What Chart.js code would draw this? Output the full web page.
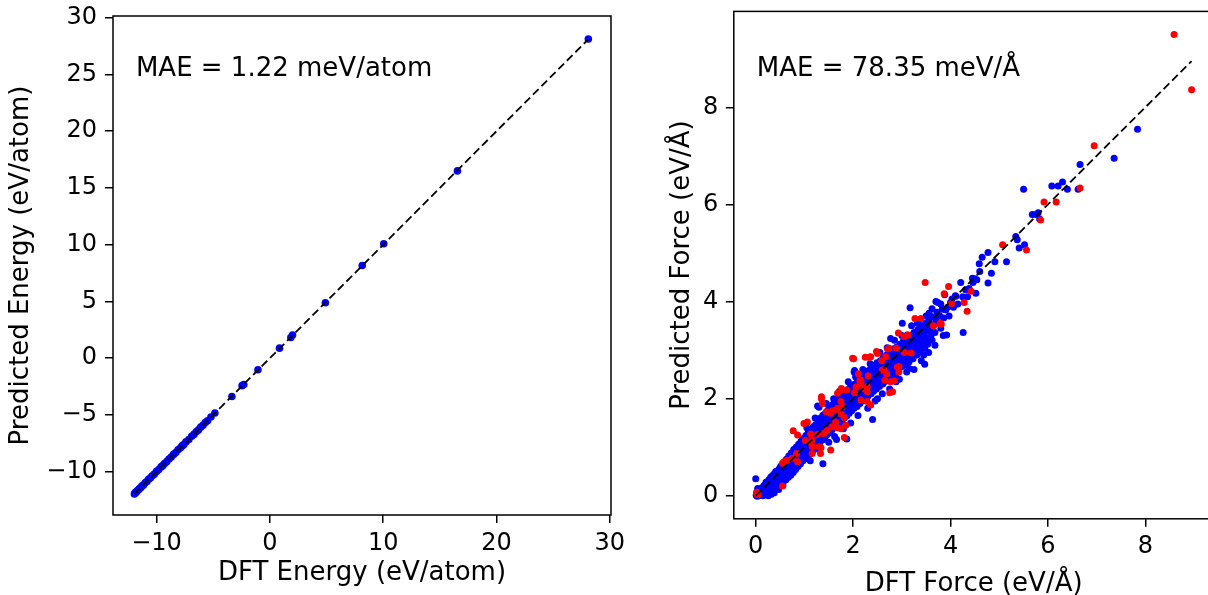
<!DOCTYPE html>
<html><head><meta charset="utf-8">
<script src="https://cdn.jsdelivr.net/npm/chart.js@4.4.0/dist/chart.umd.min.js"></script>
<style>
html,body{margin:0;padding:0;background:#fff;overflow:hidden;width:1208px;height:595px;position:relative;}
#c1{position:absolute;left:0;top:0;}
#c2{position:absolute;left:600px;top:0;}
</style></head><body>
<canvas id="c1" width="640" height="595"></canvas>
<canvas id="c2" width="620" height="610"></canvas>
<script>
// ---------------- data ----------------
const leftXTitle = 'DFT Energy (eV/atom)';
const leftYTitle = 'Predicted Energy (eV/atom)';
const leftNote = 'MAE = 1.22 meV/atom';
const leftXTicks = [-10, 0, 10, 20, 30];
const leftYTicks = [-10, -5, 0, 5, 10, 15, 20, 25, 30];
const leftDFT  = [-11.95,-11.9,-11.85,-11.8,-11.7,-11.6,-11.5,-11.4,-11.3,-11.15,-11.0,-10.85,-10.7,-10.55,-10.4,-10.2,-10.0,-9.8,-9.6,-9.45,-9.3,-9.1,-8.9,-8.7,-8.5,-8.3,-8.1,-7.9,-7.75,-7.6,-7.4,-7.15,-6.9,-6.7,-6.5,-6.3,-6.1,-5.9,-5.7,-5.5,-5.2,-4.85,-3.35,-2.45,-2.3,-1.05,0.85,1.85,2.0,4.9,8.15,10.05,16.55,28.1];
const leftPred = [-11.97,-11.88,-11.82,-11.83,-11.68,-11.62,-11.48,-11.42,-11.28,-11.17,-10.98,-10.87,-10.68,-10.57,-10.38,-10.22,-9.98,-9.82,-9.58,-9.47,-9.28,-9.12,-8.88,-8.72,-8.48,-8.32,-8.08,-7.92,-7.73,-7.62,-7.38,-7.17,-6.88,-6.72,-6.48,-6.32,-6.08,-5.92,-5.68,-5.52,-5.18,-4.83,-3.38,-2.42,-2.32,-1.02,0.88,1.82,2.03,4.88,8.17,10.08,16.5,28.12];

const rightXTitle = 'DFT Force (eV/\u00C5)';
const rightYTitle = 'Predicted Force (eV/\u00C5)';
const rightNote = 'MAE = 78.35 meV/\u00C5';
const rightTicks = [0, 2, 4, 6, 8];
// [DFT force, predicted force]
const bluePoints = [
[0.01,0.01],[0.03,-0.01],[0.05,0.04],[0.02,0.07],[0.07,0.0],[0.08,0.1],[0.09,0.03],[0.0,0.35],[0.04,0.15],
[0.11,0.02],[0.12,0.16],[0.14,0.08],[0.15,0.0],[0.17,0.21],[0.18,0.12],[0.19,0.04],
[0.21,0.28],[0.22,0.15],[0.24,0.06],[0.25,0.22],[0.27,0.33],[0.28,0.1],[0.29,0.2],[0.26,0.0],[0.32,0.03],[0.36,0.08],
[0.31,0.38],[0.32,0.24],[0.33,0.12],[0.35,0.3],[0.36,0.18],[0.37,0.44],[0.38,0.06],[0.39,0.27],
[0.41,0.5],[0.42,0.35],[0.43,0.21],[0.45,0.42],[0.46,0.29],[0.47,0.13],[0.48,0.55],[0.49,0.38],
[0.51,0.6],[0.52,0.45],[0.53,0.3],[0.55,0.52],[0.56,0.22],[0.57,0.4],[0.58,0.68],[0.59,0.56],
[0.61,0.47],[0.62,0.33],[0.63,0.75],[0.64,0.6],[0.66,0.5],[0.67,0.38],[0.68,0.82],[0.69,0.65],
[0.71,0.55],[0.72,0.42],[0.73,0.88],[0.74,0.72],[0.76,0.6],[0.77,0.48],[0.78,0.95],[0.79,0.8],
[0.81,0.67],[0.82,0.54],[0.83,1.0],[0.84,0.85],[0.86,0.74],[0.87,0.6],[0.88,1.06],[0.89,0.92],
[0.91,0.8],[0.92,0.66],[0.93,1.12],[0.94,0.98],[0.96,0.86],[0.97,0.72],[0.98,1.18],[0.99,1.02],
[1.01,0.9],[1.02,0.76],[1.03,1.24],[1.04,1.08],[1.06,0.96],[1.07,0.82],[1.08,1.3],[1.09,1.14],
[1.11,1.0],[1.12,0.86],[1.13,1.36],[1.14,1.2],[1.16,1.06],[1.17,0.92],[1.18,1.42],[1.19,1.27],
[1.21,1.12],[1.22,0.98],[1.23,1.46],[1.24,1.32],[1.26,1.18],[1.27,1.04],[1.28,1.55],[1.29,1.38],
[1.31,1.25],[1.32,1.1],[1.33,1.6],[1.34,1.44],[1.36,1.3],[1.37,1.15],[1.38,1.66],[1.39,1.5],
[1.41,1.36],[1.42,1.2],[1.43,1.7],[1.44,1.55],[1.46,1.4],[1.47,1.26],[1.48,1.76],[1.49,1.6],
[1.51,1.45],[1.52,1.3],[1.53,1.82],[1.54,1.66],[1.56,1.52],[1.57,1.36],[1.58,1.88],[1.59,1.7],
[1.61,1.56],[1.62,1.4],[1.63,1.92],[1.64,1.76],[1.66,1.62],[1.67,1.46],[1.68,1.98],[1.69,1.8],
[1.71,1.66],[1.72,1.5],[1.73,2.02],[1.74,1.86],[1.76,1.72],[1.77,1.55],[1.78,2.08],[1.79,1.9],
[1.81,1.76],[1.82,1.6],[1.83,2.12],[1.84,1.96],[1.86,1.82],[1.87,1.64],[1.88,2.18],[1.89,2.0],
[1.91,1.86],[1.92,1.7],[1.93,2.22],[1.94,2.06],[1.96,1.92],[1.97,1.75],[1.98,2.28],[1.99,2.1],
[2.01,1.96],[2.02,1.8],[2.04,2.3],[2.05,2.14],[2.07,2.0],[2.08,1.84],[2.09,2.36],
[2.11,2.2],[2.12,2.05],[2.14,1.9],[2.15,2.42],[2.17,2.26],[2.18,2.1],[2.19,1.95],
[2.21,2.48],[2.22,2.32],[2.24,2.16],[2.25,2.0],[2.27,2.5],[2.28,2.36],[2.29,2.2],
[2.31,2.06],[2.32,2.58],[2.34,2.42],[2.35,2.26],[2.37,2.1],[2.38,2.62],[2.39,2.46],
[2.41,2.3],[2.42,2.15],[2.44,2.68],[2.45,2.5],[2.47,2.36],[2.48,2.2],[2.49,2.74],
[2.51,2.56],[2.53,2.4],[2.54,2.25],[2.56,2.78],[2.57,2.62],[2.59,2.46],
[2.61,2.3],[2.62,2.84],[2.64,2.68],[2.66,2.52],[2.67,2.36],[2.69,2.9],
[2.71,2.72],[2.72,2.56],[2.74,2.42],[2.76,2.96],[2.77,2.8],[2.79,2.62],
[2.81,2.48],[2.82,3.02],[2.84,2.86],[2.86,2.7],[2.87,2.54],[2.89,3.06],
[2.91,2.92],[2.92,2.76],[2.94,2.6],[2.96,3.12],[2.97,2.96],[2.99,2.8],
[3.01,2.66],[3.03,3.18],[3.05,3.02],[3.06,2.86],[3.08,2.7],[3.09,3.22],
[3.11,3.06],[3.13,2.92],[3.15,2.76],[3.17,3.3],[3.19,3.12],
[3.21,2.96],[3.23,2.82],[3.25,3.36],[3.27,3.2],[3.29,3.04],
[3.31,2.9],[3.33,3.42],[3.35,3.26],[3.37,3.1],[3.39,2.96],
[3.41,3.5],[3.43,3.34],[3.45,3.18],[3.47,3.04],[3.49,3.56],
[3.52,3.4],[3.54,3.24],[3.56,3.62],[3.58,3.46],[3.6,3.3],
[3.63,3.68],[3.66,3.52],[3.68,3.36],[3.7,3.62],[3.72,3.78],[3.75,3.56],[3.78,3.7],[3.8,3.45],
[3.83,3.84],[3.86,3.66],[3.88,4.14],[3.9,3.83],[3.92,3.31],[3.94,3.88],[3.97,3.7],[4.0,3.98],
[4.03,4.05],[4.06,3.88],[4.1,4.12],[4.11,4.11],[4.15,3.95],[4.21,4.39],[4.25,4.1],[4.26,3.36],
[4.31,4.24],[4.35,4.1],[4.38,4.27],[4.45,4.48],[4.5,4.47],[4.52,4.17],[4.54,4.45],[4.59,4.78],
[4.65,4.91],[4.77,5.01],[4.77,4.38],[4.84,4.58],[4.91,4.82],[4.6,4.62],[4.46,4.39],
[5.15,4.82],[5.34,5.34],[5.37,5.27],[5.41,5.1],[5.52,5.17],[5.5,6.31],[5.68,5.79],[5.75,5.79],
[5.8,5.83],[5.83,5.7],[6.08,6.38],[6.21,6.38],[6.3,6.46],[6.4,6.31],[6.62,6.31],[6.66,6.82],
[7.36,6.95],[7.84,7.55],
[1.27,1.85],[1.3,1.82],[1.38,0.66],[1.66,1.16],[1.87,1.17],[2.4,1.57],[2.03,2.58],[2.39,2.63],
[3.47,2.71],[3.17,3.87],[2.77,3.24],[2.9,2.42],[3.45,2.9],[3.32,3.07],[3.56,3.76],[3.7,4.0],
[3.01,3.55],[3.32,3.55],[3.11,3.31],[2.02,2.55],[3.74,3.98],[3.9,3.83],
[0.33,0.4],[0.35,0.22],[0.4,0.44],[0.42,0.28],[0.44,0.15],[0.5,0.48],[0.52,0.36],[0.54,0.6],
[0.57,0.3],[0.6,0.62],[0.62,0.5],[0.65,0.43],[0.66,0.7],[0.7,0.77],[0.7,0.6],[0.72,0.5],
[0.75,0.84],[0.75,0.66],[0.78,0.55],[0.8,0.9],[0.8,0.72],[0.83,0.62],[0.85,0.97],[0.85,0.8],
[0.88,0.66],[0.9,1.03],[0.9,0.86],[0.93,0.74],[0.95,1.1],[0.95,0.92],[0.98,0.8],[1.0,1.16],
[1.0,1.0],[1.03,0.85],[1.05,1.22],[1.05,1.05],[1.08,0.9],[1.1,1.28],[1.1,1.1],[1.13,0.96],
[1.15,1.33],[1.15,1.16],[1.18,1.0],[1.2,1.4],[1.2,1.22],[1.23,1.06],[1.25,1.45],[1.25,1.28],
[1.28,1.12],[1.3,1.5],[1.3,1.33],[1.33,1.18],[1.35,1.56],[1.35,1.38],[1.38,1.22],[1.4,1.62],
[1.4,1.44],[1.43,1.28],[1.45,1.67],[1.45,1.48],[1.48,1.33],[1.5,1.73],[1.5,1.54],[1.53,1.38],
[1.55,1.78],[1.55,1.6],[1.58,1.43],[1.6,1.84],[1.6,1.64],[1.63,1.48],[1.65,1.88],[1.65,1.7],
[1.68,1.53],[1.7,1.94],[1.7,1.74],[1.73,1.58],[1.75,2.0],[1.75,1.8],[1.78,1.63],[1.8,2.05],
[1.8,1.85],[1.83,1.68],[1.85,2.1],[1.85,1.9],[1.88,1.72],[1.9,2.15],[1.9,1.95],[1.93,1.78],
[1.95,2.2],[1.95,2.0],[1.98,1.82],[2.0,2.26],[2.0,2.06],[2.03,1.88],[2.06,2.3],[2.06,2.1],
[2.1,1.92],[2.12,2.36],[2.13,2.16],[2.16,1.98],[2.18,2.42],[2.2,2.22],[2.23,2.04],[2.25,2.46],
[2.26,2.28],[2.3,2.1],[2.32,2.5],[2.33,2.34],[2.36,2.16],[2.38,2.55],[2.4,2.4],[2.43,2.22],
[2.45,2.6],[2.46,2.44],[2.5,2.28],[2.52,2.66],[2.53,2.5],[2.56,2.33],[2.58,2.72],[2.6,2.56],
[2.63,2.4],[2.65,2.76],[2.67,2.62],[2.7,2.46],[2.72,2.82],[2.74,2.66],[2.77,2.5],[2.79,2.88],
[2.8,2.74],[2.83,2.58],[2.86,2.94],[2.88,2.8],[2.9,2.64],[2.93,3.0],[2.95,2.84],[2.98,2.7],
[3.0,3.05],[3.02,2.9],[3.05,2.76],[3.08,3.12],[3.1,2.95],[3.13,2.82],[3.16,3.18],[3.18,3.02],
[3.2,2.88],[3.24,3.24],[3.26,3.08],[3.28,2.94],[3.32,3.3],[3.34,3.14],[3.36,3.0],[3.4,3.36],
[3.42,3.2],[3.44,3.06],[3.48,3.42],[3.5,3.26],[3.53,3.12],[3.57,3.5],[3.6,3.36],[3.62,3.2],
[1.05,1.4],[1.12,0.72],[1.22,1.6],[1.3,0.95],[1.45,1.9],[1.5,1.1],[1.6,2.0],[1.62,1.22],
[1.72,2.15],[1.8,1.38],[1.9,2.35],[1.95,1.5],[2.05,2.45],[2.1,1.65],[2.2,2.6],[2.3,1.8],
[2.35,2.72],[2.45,1.95],[2.55,2.95],[2.6,2.1],[2.7,3.05],[2.75,2.2],[2.85,3.2],[2.95,2.4],
[3.0,3.3],[3.1,2.55],[3.2,3.5],[3.25,2.6],[3.35,3.62],[3.4,2.78],[3.5,3.7],[3.55,2.95],
[3.62,3.85],[3.68,3.1],[3.8,3.95],[3.85,3.3],[2.25,2.55],[2.5,2.0],[2.88,2.35],[3.15,2.62]
];
const redPoints = [
[0.02,0.04],[0.05,0.02],[0.03,0.07],[0.55,0.2],[0.55,0.67],[0.58,0.7],[0.64,0.73],[0.75,0.77],
[0.86,0.7],[0.77,1.34],[0.86,1.25],[0.84,0.87],[0.99,1.49],[1.06,1.52],[1.02,1.14],[1.12,1.1],
[1.16,0.87],[1.16,1.01],[1.13,1.27],[1.16,1.15],[1.3,1.01],[1.27,1.26],[1.33,0.87],[1.34,0.99],
[1.54,0.94],[1.35,2.04],[1.45,1.73],[1.58,1.75],[1.67,1.78],[1.64,1.52],[1.68,1.8],[1.75,1.69],
[1.78,1.83],[1.82,1.61],[1.85,1.45],[1.67,1.4],[1.75,1.38],[1.82,1.2],[1.4,1.28],[1.47,1.35],
[1.57,1.42],[1.35,2.0],[1.37,1.9],[1.54,1.7],[1.75,1.94],[1.78,2.18],[1.68,2.11],[1.76,2.21],
[1.87,2.18],[2.03,2.12],[2.06,2.24],[2.14,2.37],[2.29,1.94],[2.29,2.14],[2.01,2.82],[2.11,2.51],
[2.16,2.38],[2.16,2.31],[2.25,2.85],[2.33,2.85],[2.29,2.25],[2.31,2.47],[2.48,2.97],[2.5,2.93],
[2.59,2.78],[2.6,2.59],[2.65,2.38],[2.67,2.86],[2.69,2.51],[2.71,3.02],[2.74,3.04],[2.75,2.12],
[2.81,2.14],[2.84,2.37],[2.89,3.04],[2.91,2.65],[2.93,3.35],[2.94,2.55],[3.05,2.95],[3.05,3.28],
[3.19,2.94],[3.13,3.31],[3.27,3.65],[3.39,3.65],[3.48,4.39],[3.65,3.5],[3.79,3.55],[3.81,3.53],
[3.87,4.16],[3.96,4.31],[4.02,3.96],[4.28,3.98],[4.34,3.8],[4.42,4.21],[5.07,5.17],[5.56,5.06],
[5.85,5.68],[5.92,6.05],[6.17,6.05],[6.66,6.34],[6.95,7.21],[8.59,9.5],[8.95,8.36],
[2.22,2.21],[2.16,1.97],[2.36,1.87],[2.77,2.35],[2.63,2.59],[2.94,2.66],[1.99,2.83],[2.36,2.86]
];

// ---------------- drawing ----------------
const FONT = '"DejaVu Sans", sans-serif';
const fmt = v => (v < 0 ? '\u2212' + Math.abs(v) : String(v));

const framePlugin = {
  id: 'frame',
  afterDatasetsDraw(chart, args, opts) {
    const {ctx, chartArea: a} = chart;
    ctx.save();
    ctx.strokeStyle = '#000';
    ctx.lineWidth = 1.5;
    ctx.strokeRect(a.left, a.top, a.right - a.left, a.bottom - a.top);
    ctx.fillStyle = '#000';
    ctx.font = '26px ' + FONT;
    ctx.textBaseline = 'alphabetic';
    ctx.textAlign = 'left';
    ctx.fillText(opts.text, a.left + opts.fx * (a.right - a.left), a.bottom - opts.fy * (a.bottom - a.top));
    ctx.restore();
  }
};

function axis(min, max, ticks, size, isX, title, tpad, tickPad) {
  return {
    type: 'linear', min, max,
    afterBuildTicks: s => { s.ticks = ticks.map(v => ({value: v})); },
    afterFit: s => {
      if (isX) s.height = size; else s.width = size;
      s.paddingTop = 0; s.paddingBottom = 0; s.paddingLeft = 0; s.paddingRight = 0;
    },
    grid: {display: true, drawOnChartArea: false, drawTicks: true, tickLength: 8, color: '#000', lineWidth: 1.5},
    border: {display: false},
    ticks: {font: {family: FONT, size: 24}, color: '#000', padding: tickPad, maxRotation: 0, autoSkip: false, callback: v => fmt(v)},
    title: {display: true, text: title, color: '#000', font: {family: FONT, size: 26}, padding: tpad}
  };
}

function makeChart(id, cfg) {
  const datasets = [
    {data: [{x: cfg.lo, y: cfg.lo}, {x: cfg.hi, y: cfg.hi}], showLine: true, borderColor: '#000', borderWidth: 1.8, borderDash: [8, 4], pointRadius: 0, order: 0}
  ];
  cfg.series.forEach((s, i) => datasets.push({data: s.pts.map(p => ({x: p[0], y: p[1]})), backgroundColor: s.color, pointRadius: cfg.r, borderWidth: 0, order: i + 1}));
  return new Chart(document.getElementById(id), {
    type: 'scatter',
    data: {datasets},
    options: {
      responsive: false, animation: false, devicePixelRatio: 1,
      layout: {padding: cfg.pad},
      plugins: {legend: {display: false}, tooltip: {enabled: false}, frame: {text: cfg.note, fx: cfg.fx, fy: cfg.fy}},
      scales: {x: cfg.x, y: cfg.y}
    },
    plugins: [framePlugin]
  });
}

makeChart('c1', {
  lo: Math.min(...leftDFT), hi: Math.max(...leftDFT), r: 3.8,
  series: [{pts: leftDFT.map((v, i) => [v, leftPred[i]]), color: '#0000ff'}],
  note: leftNote, fx: 0.046, fy: 0.88,
  pad: {left: 0, top: 16, right: 29, bottom: 0},
  x: axis(-13.84, 30.1, leftXTicks, 80, true, leftXTitle, {top: 0, bottom: 5.8}, 6),
  y: axis(-13.82, 30.15, leftYTicks, 113, false, leftYTitle, {top: 6.1, bottom: 0}, 8)
});

const allRightX = bluePoints.concat(redPoints).map(p => p[0]);
makeChart('c2', {
  lo: Math.min(...allRightX), hi: Math.max(...allRightX), r: 3.5,
  series: [{pts: redPoints, color: '#ff0000'}, {pts: bluePoints, color: '#0000ff'}],
  note: rightNote, fx: 0.048, fy: 0.873,
  pad: {left: 0, top: 11.4, right: 6.5, bottom: 0},
  x: axis(-0.45, 9.40, rightTicks, 91.2, true, rightXTitle, {top: 0, bottom: 10.4}, 6),
  y: axis(-0.475, 9.975, rightTicks, 133.8, false, rightYTitle, {top: 66.4, bottom: 0}, 7.5)
});
</script>
</body></html>
